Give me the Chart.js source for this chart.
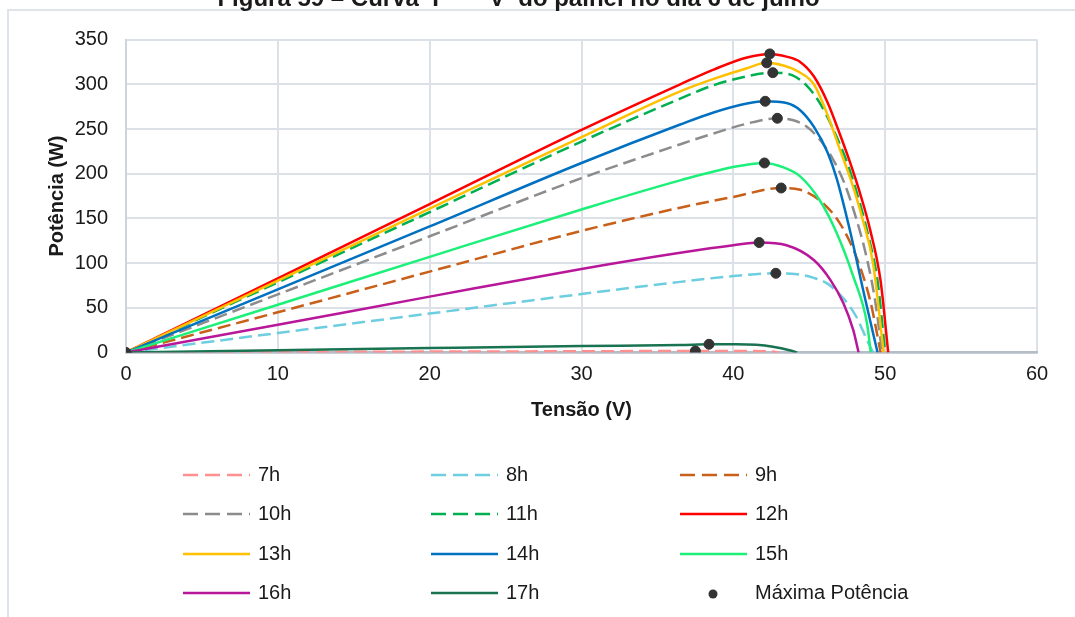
<!DOCTYPE html>
<html>
<head>
<meta charset="utf-8">
<script src="https://cdn.jsdelivr.net/npm/chart.js@4.4.1/dist/chart.umd.min.js"></script>
<style>
  html, body { margin: 0; padding: 0; background: #fff; overflow: hidden; }
  body { width: 1075px; height: 617px; position: relative; }
  #frame {
    position: absolute; left: 7px; top: 9px; width: 1100px; height: 640px;
    border-left: 2px solid #dfe4ea; border-top: 2px solid #dfe4ea;
  }
  #chart { position: absolute; left: 0; top: -15px; }
</style>
</head>
<body>
<div id="frame"></div>
<canvas id="chart" width="1075" height="632"></canvas>
<script>
// curvas P-V por hora: tensão (V) e potência (W)
const v07 = [0, 10, 20, 30, 37.5, 40, 42, 42.6, 43];
const p07 = [0, 0.5, 1.0, 1.4, 1.7, 1.75, 1.5, 1.0, 0];

const v08 = [0, 10, 20, 30, 36.5, 40, 42.8, 44.2, 45.3, 46.2, 47.25, 48.1, 48.8, 49.2];
const p08 = [0, 21.8, 43.6, 65.4, 79, 85.5, 88.6, 87.5, 83.5, 77, 60.6, 40, 14, 0];

const v09 = [0, 10, 20, 30, 36.5, 40, 43.15, 44.4, 45.9, 47, 48.1, 49, 49.5, 49.7];
const p09 = [0, 45, 90.5, 136, 162, 174, 184, 182, 167, 145, 107, 59, 18, 0];

const v10 = [0, 10, 20, 30, 36.7, 38.7, 40.9, 42.9, 43.9, 44.8, 45.7, 46.5, 47.3, 48, 48.7, 49.3, 49.8];
const p10 = [0, 65, 130, 195, 234, 245, 256, 262, 260, 253, 238, 218, 190, 155, 112, 62, 0];

const v11 = [0, 10, 20, 30, 36.5, 38.7, 40.9, 42.6, 43.9, 44.8, 45.7, 46.6, 47.5, 48.2, 48.9, 49.5, 50];
const p11 = [0, 78.5, 157, 236, 284, 299, 309, 313, 310, 299, 279, 249, 212, 175, 130, 80, 0];

const v12 = [0, 10, 20, 30, 36.5, 38.7, 40.9, 42.4, 43.5, 44.4, 45.3, 46.2, 47, 47.7, 48.4, 49, 49.7, 50.2];
const p12 = [0, 83, 166, 249, 300, 316.5, 330, 334, 331, 325, 309, 280, 245, 212, 175, 138, 80, 0];

const v13 = [0, 10, 20, 30, 36.5, 38.7, 40.9, 42.2, 43.3, 44.3, 45.3, 46.2, 47, 47.8, 48.5, 49.2, 49.9];
const p13 = [0, 80.5, 161, 241, 292, 306, 318, 324, 321, 314, 300, 266, 228, 190, 150, 100, 0];

const v14 = [0, 10, 20, 30, 36.5, 38.7, 40.9, 42.1, 43.5, 44.4, 45.3, 46.2, 46.8, 47.7, 48.6, 49.5];
const p14 = [0, 70.6, 141, 212, 255, 268.5, 278.5, 281, 279, 271, 252.6, 224, 195, 135, 66, 0];

const v15 = [0, 10, 20, 30, 36.5, 40, 42.05, 43.3, 44.4, 45.7, 46.8, 47.9, 48.8, 49.05];
const p15 = [0, 53.4, 107, 160, 192.5, 207.5, 212, 207, 197, 170, 134, 85, 33, 0];

const v16 = [0, 10, 20, 30, 36.5, 40, 41.7, 43.5, 45.3, 46.4, 47.25, 47.9, 48.25];
const p16 = [0, 31, 62.5, 93.5, 111.6, 120, 123, 120, 103.5, 81, 55, 25, 0];

const v17 = [0, 10, 20, 30, 36.5, 38.4, 40.2, 41.5, 42.6, 43.7, 44.2];
const p17 = [0, 2.5, 5, 7.3, 8.4, 9.2, 9.3, 8.6, 6.5, 2.6, 0];

// pontos de máxima potência (inclui a origem)
const vMax = [0, 37.5, 42.8, 43.15, 42.9, 42.6, 42.4, 42.2, 42.1, 42.05, 41.7, 38.4];
const pMax = [0, 1.7, 88.6, 184, 262, 313, 334, 324, 281, 212, 123, 9.2];

const horas = ['7h', '8h', '9h', '10h', '11h', '12h', '13h', '14h', '15h', '16h', '17h'];
const tensoes = [v07, v08, v09, v10, v11, v12, v13, v14, v15, v16, v17];
const potencias = [p07, p08, p09, p10, p11, p12, p13, p14, p15, p16, p17];
const cores = ['#FF9090', '#6DCEDF', '#C8601A', '#8C8C8C', '#00B050', '#FF0000',
               '#FFC000', '#0070C0', '#1CF078', '#B8179A', '#1A7350'];
const tracejado = [true, true, true, true, true, false, false, false, false, false, false];

const fonte = '"Liberation Sans", Arial, sans-serif';

function pares(xs, ys) {
  return xs.map((x, i) => ({ x: x, y: ys[i] }));
}

const datasets = horas.map((h, i) => ({
  label: h,
  data: pares(tensoes[i], potencias[i]),
  showLine: true,
  borderColor: cores[i],
  backgroundColor: cores[i],
  borderWidth: 2.5,
  borderDash: tracejado[i] ? [13, 6] : [],
  pointRadius: 0,
  cubicInterpolationMode: 'monotone',
  order: 100 - i
}));

datasets.push({
  label: 'Máxima Potência',
  data: pares(vMax, pMax),
  showLine: false,
  pointRadius: 5,
  pointBackgroundColor: '#333333',
  pointBorderColor: '#333333',
  backgroundColor: '#333333',
  order: 0
});

// legenda em grade de 3 colunas, desenhada abaixo do gráfico
const legendaGrade = {
  id: 'legendaGrade',
  afterDraw(chart) {
    const ctx = chart.ctx;
    const colX = [183, 431, 680];
    const rowY = [490, 529, 569, 608];
    chart.data.datasets.forEach((ds, i) => {
      const x = colX[i % 3];
      const y = rowY[Math.floor(i / 3)];
      ctx.save();
      if (ds.showLine) {
        ctx.strokeStyle = ds.borderColor;
        ctx.lineWidth = 2.5;
        ctx.setLineDash(ds.borderDash.length ? [15, 7] : []);
        ctx.beginPath();
        ctx.moveTo(x, y);
        ctx.lineTo(x + 67, y);
        ctx.stroke();
      } else {
        ctx.fillStyle = ds.pointBackgroundColor;
        ctx.beginPath();
        ctx.arc(x + 33, y + 1, 4.5, 0, Math.PI * 2);
        ctx.fill();
      }
      ctx.setLineDash([]);
      ctx.fillStyle = '#1a1a1a';
      ctx.font = '20px ' + fonte;
      ctx.textBaseline = 'middle';
      ctx.textAlign = 'left';
      ctx.fillText(ds.label, x + 75, y);
      ctx.restore();
    });
  }
};

const grade = '#dce1e8';

new Chart(document.getElementById('chart'), {
  type: 'scatter',
  data: { datasets: datasets },
  options: {
    responsive: false,
    devicePixelRatio: 1,
    animation: false,
    layout: { padding: { left: 0, right: 38, top: 0, bottom: 184.5 } },
    plugins: {
      legend: { display: false },
      tooltip: { enabled: false },
      title: {
        display: true,
        text: 'Figura 59 – Curva  P  −  V  do painel no dia 6 de julho',
        color: '#1a1a1a',
        font: { family: fonte, size: 24, weight: 'bold' },
        padding: { top: 0, bottom: 25.8 }
      }
    },
    scales: {
      x: {
        type: 'linear',
        min: 0, max: 60,
        afterFit: s => { s.height = 80; },
        ticks: { stepSize: 10, padding: 9.5, color: '#1a1a1a', font: { family: fonte, size: 20 } },
        grid: { color: grade, lineWidth: 2, drawTicks: false },
        border: { color: '#b5bdc9', width: 2.5 },
        title: {
          display: true, text: 'Tensão (V)', color: '#1a1a1a',
          font: { family: fonte, size: 20, weight: 'bold' },
          padding: { top: 0, bottom: 10.5 }
        }
      },
      y: {
        min: 0, max: 350,
        afterFit: s => { s.width = 126; },
        ticks: { stepSize: 50, padding: 18, color: '#1a1a1a', font: { family: fonte, size: 20 } },
        grid: { color: grade, lineWidth: 2, drawTicks: false },
        border: { color: '#cdd4dd', width: 2 },
        title: {
          display: true, text: 'Potência (W)', color: '#1a1a1a',
          font: { family: fonte, size: 20, weight: 'bold' },
          padding: { top: 45, bottom: 0 }
        }
      }
    }
  },
  plugins: [legendaGrade]
});
</script>
</body>
</html>
